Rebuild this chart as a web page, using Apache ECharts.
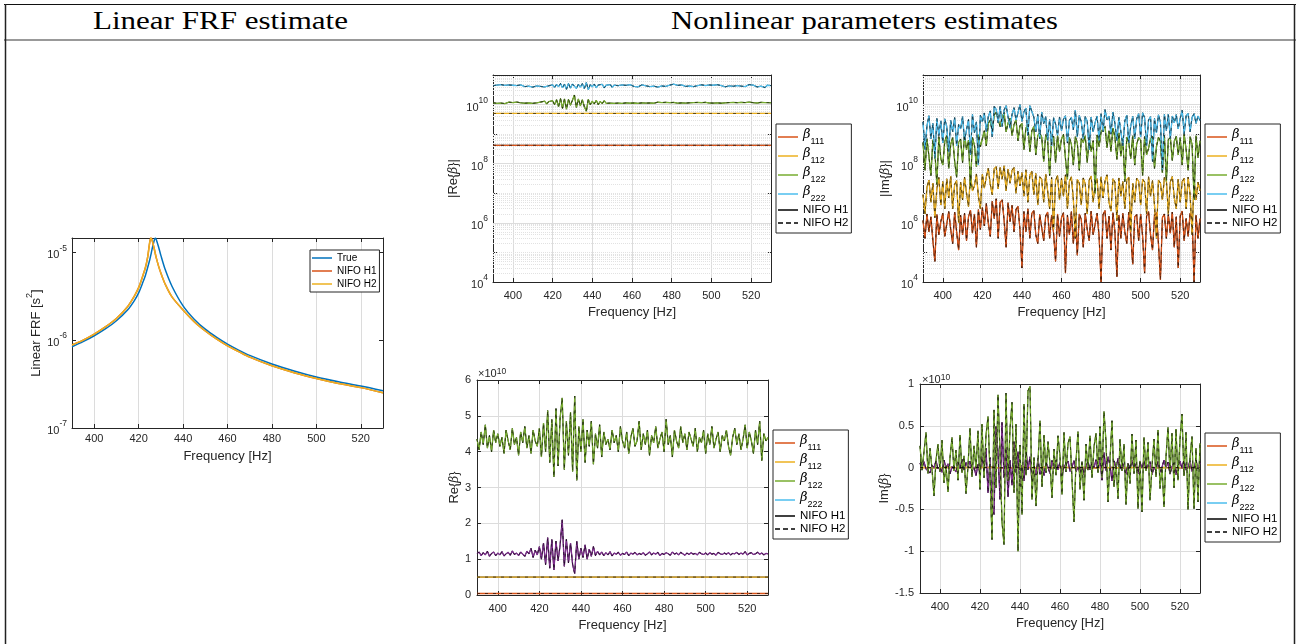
<!DOCTYPE html>
<html>
<head>
<meta charset="utf-8">
<script src="https://cdn.jsdelivr.net/npm/echarts@6.0.0/dist/echarts.min.js"></script>
<style>
  html, body { margin: 0; width: 1299px; height: 644px; background: #fff; overflow: hidden; }
  .layer { position: absolute; left: 0; top: 0; width: 1299px; height: 644px; }
</style>
</head>
<body>
<svg class="layer" width="1299" height="644">
  <line x1="4" y1="4.5" x2="1296" y2="4.5" stroke="#111" stroke-width="1"/>
  <line x1="4" y1="40" x2="1296" y2="40" stroke="#777" stroke-width="1.5"/>
  <line x1="5.5" y1="4" x2="5.5" y2="644" stroke="#222" stroke-width="1.5"/>
  <line x1="1294.5" y1="4" x2="1294.5" y2="644" stroke="#222" stroke-width="1.5"/>
  <text x="93" y="29" font-family="Liberation Serif" font-size="26" textLength="255" lengthAdjust="spacingAndGlyphs">Linear FRF estimate</text>
  <text x="671" y="29" font-family="Liberation Serif" font-size="26" textLength="387" lengthAdjust="spacingAndGlyphs">Nonlinear parameters estimates</text>
</svg>
<div id="frf" class="layer"></div>
<div id="nl" class="layer"></div>
<script>
// ---- linear FRF ----
const frfFreq = [390, 395, 400, 405, 410, 415, 418, 420, 422, 423, 424, 425, 425.5, 426, 427, 427.5, 428, 429, 430, 432, 435, 440, 445, 450, 455, 460, 465, 470, 480, 490, 500, 510, 520, 530];
const frfTrue = [8.4e-7, 9.6e-7, 1.12e-6, 1.34e-6, 1.66e-6, 2.2e-6, 2.8e-6, 3.45e-6, 4.6e-6, 5.4e-6, 6.6e-6, 8.2e-6, 9.3e-6, 1.07e-5, 1.36e-5, 1.45e-5, 1.38e-5, 1.14e-5, 9.2e-6, 6.3e-6, 4.1e-6, 2.45e-6, 1.73e-6, 1.33e-6, 1.08e-6, 9.0e-7, 7.7e-7, 6.7e-7, 5.35e-7, 4.45e-7, 3.8e-7, 3.35e-7, 3.0e-7, 2.65e-7];
const frfNifoH1 = [8.8e-7, 1.0e-6, 1.17e-6, 1.41e-6, 1.76e-6, 2.4e-6, 3.15e-6, 3.95e-6, 5.5e-6, 6.6e-6, 8.6e-6, 1.3e-5, 1.45e-5, 1.38e-5, 1.1e-5, 9.6e-6, 8.5e-6, 6.9e-6, 5.8e-6, 4.3e-6, 3.1e-6, 2.2e-6, 1.62e-6, 1.27e-6, 1.03e-6, 8.6e-7, 7.4e-7, 6.4e-7, 5.1e-7, 4.25e-7, 3.65e-7, 3.2e-7, 2.88e-7, 2.52e-7];
const frfNifoH2 = frfNifoH1;

// ---- nonlinear coefficients, one value per Hz from 390 to 530 ----
// Re{beta} in units of 1e10
const reB111 = 0.042;
const reB112 = 0.50;
const reB122 = [1.15, 1.2, 1.1, 1.18, 1.12, 1.22, 1.08, 1.16, 1.2, 1.1,
  1.17, 1.12, 1.21, 1.09, 1.15, 1.19, 1.11, 1.23, 1.13, 1.17,
  1.1, 1.2, 1.14, 1.08, 1.22, 1.15, 1.3, 1.05, 1.25, 1.12,
  1.35, 1.0, 1.45, 0.85, 1.6, 0.75, 1.55, 0.7, 1.5, 0.95,
  1.4, 2.1, 0.8, 1.55, 0.9, 1.45, 0.85, 0.6, 1.5, 1.0,
  1.3, 1.05, 1.4, 1.0, 1.28, 1.08, 1.35, 1.1, 1.22, 1.12,
  1.2, 1.1, 1.18, 1.12, 1.21, 1.09, 1.17, 1.14, 1.19, 1.11,
  1.16, 1.13, 1.2, 1.1, 1.17, 1.14, 1.19, 1.12, 1.16, 1.13,
  1.18, 1.11, 1.15, 1.2, 1.12, 1.17, 1.14, 1.19, 1.1, 1.16,
  1.13, 1.18, 1.15, 1.11, 1.2, 1.14, 1.17, 1.12, 1.19, 1.15,
  1.11, 1.17, 1.13, 1.18, 1.14, 1.16, 1.12, 1.19, 1.15, 1.13,
  1.17, 1.12, 1.18, 1.14, 1.16, 1.11, 1.19, 1.15, 1.13, 1.17,
  1.14, 1.18, 1.12, 1.16, 1.15, 1.19, 1.13, 1.17, 1.14, 1.21,
  1.12, 1.16, 1.18, 1.13, 1.15, 1.19, 1.14, 1.17, 1.12, 1.16,
  1.15];
const reB222 = [4.35, 4.05, 4.55, 4.2, 4.75, 4.1, 4.45, 4.0, 4.6, 4.25,
  4.5, 4.15, 4.4, 3.95, 4.6, 4.3, 4.05, 4.65, 4.2, 4.4,
  3.9, 4.55, 4.25, 4.7, 4.1, 4.45, 3.95, 4.6, 4.3, 4.15,
  4.65, 3.85, 4.8, 4.0, 5.15, 3.7, 4.9, 3.3, 5.2, 3.6,
  4.95, 5.5, 3.5, 4.85, 3.9, 5.1, 3.45, 5.55, 3.2, 4.7,
  4.0, 4.9, 3.7, 4.6, 4.15, 4.85, 3.65, 4.5, 4.1, 4.75,
  3.85, 4.55, 4.2, 4.35, 4.05, 4.6, 4.25, 4.45, 4.0, 4.7,
  4.3, 4.1, 4.55, 3.95, 4.4, 4.65, 4.15, 4.3, 4.85, 4.05,
  4.5, 4.2, 4.6, 3.9, 4.45, 4.25, 4.7, 4.1, 4.35, 4.55,
  4.0, 4.9, 4.2, 4.45, 3.85, 4.6, 4.3, 4.1, 4.7, 4.25,
  4.5, 4.05, 4.55, 4.35, 4.15, 4.65, 4.0, 4.4, 4.25, 4.6,
  3.95, 4.5, 4.2, 4.7, 4.1, 4.35, 4.55, 4.0, 4.45, 4.3,
  4.6, 4.15, 3.9, 4.4, 4.65, 4.2, 4.5, 4.05, 4.35, 4.75,
  4.1, 4.55, 4.3, 3.95, 4.6, 4.2, 4.85, 3.75, 4.5, 4.3,
  4.4];
// Im{beta} in units of 1e6
const imB111 = [1.2, -0.3, 2.0, 0.5, -1.6, 0.25, -0.05, 1.9, -0.4, 1.1,
  -2.1, 0.35, 0.9, -2.4, 0.6, -0.2, 2.3, -0.5, 0.12, 1.8,
  -0.4, 2.1, -0.25, 1.6, -2.7, 0.45, 2.0, -0.15, 2.8, -0.6,
  3.3, -0.8, 4.5, -1.0, 0.35, 5.4, -1.4, 6.5, -0.3, 5.0,
  -6.0, 1.2, 0.15, 4.8, -1.1, 3.9, -0.5, 2.8, -3.6, 0.6,
  0.03, 2.4, -0.5, 3.0, -0.3, 2.1, -2.6, 0.4, 0.2, -1.9,
  2.2, -0.25, 1.7, -2.3, 0.3, 1.8, -0.45, 0.05, 2.0, -0.35,
  1.5, -2.2, 0.02, 1.8, -0.4, 2.4, -0.2, 1.6, 0.08, -2.0,
  1.3, -0.15, 2.1, -0.6, 0.25, 2.5, -0.4, 0.9, -2.1, 0.35,
  0.01, 1.9, -2.6, 0.3, 1.7, -0.12, 2.2, -0.5, 0.015, 1.8,
  -0.3, 2.1, -0.5, 0.2, 2.3, -0.4, 0.04, 1.6, -1.9, 0.25,
  2.0, -0.35, 0.02, 1.7, -2.4, 0.4, 0.12, -1.8, 2.2, -0.2,
  0.012, 1.5, -2.0, 0.3, 1.9, -0.45, 2.3, -0.15, 1.6, 0.03,
  -1.7, 2.5, -0.25, 1.4, 0.35, -2.1, 1.6, 0.01, -1.8, 0.3,
  1.4];
const imB112 = [9, -2, 16, 28, -5, 22, -1.5, 14, -34, 4,
  -25, 3, 31, -7, 38, -3, 20, -27, 1, 24,
  -6, 35, -10, 3.5, 42, -12, 18, -45, 8, -3,
  44, -15, 36, -70, 20, -9, 68, -80, 14, 75,
  -30, 85, -12, 66, -22, 60, -74, 10, 55, -18,
  50, -8, 62, -5, 41, -55, 9, 47, -4, 36,
  -30, 5, 45, -12, 3, 34, -0.6, 27, -40, 6,
  32, -8, 42, -3, 25, 36, -6, 0.3, 30, -22,
  4, -33, 21, 2, -28, 38, -5, 20, -31, 3,
  36, -7, 26, -42, 5, -2.5, 31, -24, 1.2, 33,
  -8, 25, -3, 29, -35, 0.5, 22, -5, 32, -26,
  4, -30, 24, -2, 36, -8, 27, -4, 0.3, 28,
  -22, 6, 34, -28, 2, 24, -37, 7, -3, 30,
  -5, 25, -32, 3, 35, -9, 0.4, 29, -6, 24,
  12];
const imB122 = [520, -60, 700, -180, 40, -640, 260, -20, 820, -150,
  90, -560, 900, -70, 450, -760, 120, 35, -520, 680,
  -110, 980, -300, 620, -15, 760, -420, 80, -950, 380,
  -700, 1300, -400, 2300, -3000, 1200, -4400, -5600, 4900, 1800,
  -3800, 5400, -1200, 2400, -3500, 900, -2100, 3100, -600, 1900,
  -2300, 300, -1600, 2100, -250, 1300, -1800, 200, -900, 1100,
  -800, 120, -950, 600, 40, -700, 850, -110, 900, -260,
  680, -980, 150, -30, 760, -450, 90, 820, -500, 60,
  -700, 520, -880, 110, 780, -260, 600, -10, 940, -380,
  1200, -1500, 1800, -350, 1300, 260, -1600, 800, -140, 1100,
  -180, 720, 25, -800, 520, -150, 880, -90, 460, -760,
  640, -40, 820, -200, 330, 700, -850, 70, -380, 780,
  -560, 50, 900, -25, 650, -780, 130, 560, -850, 200,
  760, -90, 980, -300, 60, 820, -450, 6, 880, -160,
  600];
const imB222 = [2600, -300, 1900, 4200, -700, 2300, -150, -3400, 900, 2800,
  -500, 3300, -1800, 250, -2900, 1200, 3600, -400, 2100, -1500,
  3900, -600, 1400, -3100, 200, 4700, -1100, 2600, -90, 4400,
  -2600, 5200, -1200, 3900, 6100, -800, -8600, 6900, -2400, 8700,
  1800, -6500, -9200, 8900, -1600, 4600, 7800, -3000, 5200, -10000,
  2700, -5600, 7600, -900, 9200, 9700, -3800, 1200, -4600, 700,
  5600, -2300, 3900, -600, 3100, 400, -3600, 2200, -900, 3800,
  1300, -3200, 4200, -500, 2900, 3700, -1400, -6500, 800, 4300,
  -2600, 700, -3900, 2800, -300, 3800, -1200, 2500, 4100, -600,
  4900, -1200, 6700, 3100, -4100, 1000, 5600, -2300, 600, -3700,
  3400, -400, 2800, -4400, 500, -1900, 4000, -700, 3300, -4900,
  800, -5300, 3600, -400, 3000, -3900, 120, 3400, -1100, 4500,
  -2500, 60, -4700, 1300, 4800, -700, 4100, -2400, 4600, -1500,
  3400, 6400, -1000, 4200, -5000, 1200, 3700, -4900, 2300, -4100,
  2900];

const betaNames = ['β111', 'β112', 'β122', 'β222'];

// ---- styling ----
const FONT = '"Liberation Sans", Arial, Helvetica, sans-serif';
const INK = '#262626';
const MAJOR = '#dcdcdc';
const MINOR = '#e2e2e2';
const COL = { blue: '#0072BD', orange: '#D95319', yellow: '#EDB120', purple: '#7E2F8E', green: '#77AC30', cyan: '#4DBEEE' };
const SOLID_ICON = 'path://M0,0H20V1.5H0Z';
const DASH_ICON = 'path://M0,0H5V1.5H0Z M8,0H13V1.5H8Z M16,0H20V1.5H16Z';

const freq = [];
for (let f = 390; f <= 530; f++) freq.push(f);

function freqAxis(grid, nameGap, margin, fs) {
  return {
    type: 'value', gridIndex: grid, min: 390, max: 530, splitNumber: 7,
    name: 'Frequency [Hz]', nameLocation: 'middle', nameGap: nameGap,
    nameTextStyle: { fontFamily: FONT, fontSize: 13, color: INK },
    axisLine: { show: true, onZero: false, lineStyle: { color: INK } },
    axisTick: { show: true, inside: true, length: 4, lineStyle: { color: INK } },
    axisLabel: { fontFamily: FONT, fontSize: fs, color: INK, margin: margin,
      formatter: v => (v % 20 === 0 ? String(v) : '') },
    splitLine: { show: true, lineStyle: { color: MAJOR } }
  };
}
function topAxis(grid) {
  return {
    type: 'value', gridIndex: grid, position: 'top', min: 390, max: 530, splitNumber: 7,
    axisLine: { show: true, onZero: false, lineStyle: { color: INK } },
    axisTick: { show: true, inside: true, length: 4, lineStyle: { color: INK } },
    axisLabel: { show: false }, splitLine: { show: false }
  };
}
const nameRich = {
  g: { fontFamily: 'DejaVu Serif', fontStyle: 'italic', fontSize: 12, color: INK },
  b: { fontFamily: FONT, fontSize: 13, color: INK, verticalAlign: 'bottom', lineHeight: 18 },
  p: { fontFamily: FONT, fontSize: 9, color: INK, verticalAlign: 'top', lineHeight: 18 }
};
function logAxis(grid, minExp, max, every, name, nameGap) {
  return {
    type: 'log', logBase: 10, gridIndex: grid, min: Math.pow(10, minExp), max: max,
    name: name, nameLocation: 'middle', nameGap: nameGap,
    nameTextStyle: { fontFamily: FONT, fontSize: 13, color: INK, rich: nameRich },
    axisLine: { show: true, lineStyle: { color: INK } },
    axisTick: { show: true, inside: true, length: 4, lineStyle: { color: INK } },
    axisLabel: {
      margin: 5,
      formatter: v => {
        const e = Math.log10(v), r = Math.round(e);
        if (Math.abs(e - r) > 1e-6 || (r - minExp) % every !== 0) return '';
        return '{b|10}{s|' + r + '}';
      },
      rich: {
        b: { fontFamily: FONT, fontSize: 11, color: INK, verticalAlign: 'bottom', lineHeight: 17 },
        s: { fontFamily: FONT, fontSize: 8.5, color: INK, verticalAlign: 'top', lineHeight: 17 }
      }
    },
    splitLine: { show: false }
  };
}
function linAxis(grid, min, max, interval, name, nameGap) {
  return {
    type: 'value', gridIndex: grid, min: min, max: max, interval: interval,
    name: name, nameLocation: 'middle', nameGap: nameGap,
    nameTextStyle: { fontFamily: FONT, fontSize: 13, color: INK, rich: nameRich },
    axisLine: { show: true, onZero: false, lineStyle: { color: INK } },
    axisTick: { show: true, inside: true, length: 4, lineStyle: { color: INK } },
    axisLabel: { fontFamily: FONT, fontSize: 11, color: INK, margin: 6 },
    splitLine: { show: true, lineStyle: { color: MAJOR } }
  };
}
function rightAxis(base) {
  return Object.assign({}, base, {
    position: 'right', name: '', axisLabel: { show: false }, splitLine: { show: false }
  });
}
// grid lines of a log axis: solid at labelled decades, dotted elsewhere
function logGridLines(minExp, maxVal, every) {
  const out = [];
  for (let e = minExp; Math.pow(10, e) < maxVal; e++) {
    for (let k = 1; k <= 9; k++) {
      const v = k * Math.pow(10, e);
      if (v <= Math.pow(10, minExp) || v >= maxVal) continue;
      const major = k === 1 && (e - minExp) % every === 0;
      out.push({ yAxis: v, lineStyle: { type: major ? 'solid' : 'dotted', color: major ? MAJOR : MINOR, width: 1 } });
    }
  }
  return out;
}
function gridSeries(ax, lines) {
  return {
    type: 'line', name: 'grid' + ax, xAxisIndex: ax, yAxisIndex: ax, data: [], silent: true,
    markLine: { silent: true, z: 1, symbol: ['none', 'none'], label: { show: false },
      emphasis: { disabled: true }, animation: false, data: lines }
  };
}
function line(name, ax, data, color, width, dashed, z) {
  return {
    type: 'line', name: name, xAxisIndex: ax, yAxisIndex: ax, data: data,
    showSymbol: false, symbol: 'none', z: z,
    lineStyle: { color: color, width: width, type: dashed ? [3, 5] : 'solid' },
    itemStyle: { color: color }, emphasis: { disabled: true }
  };
}

// ---------------- left chart ----------------
const frf = echarts.init(document.getElementById('frf'));
const frfY = logAxis(0, -7, 1.45e-5, 1, '{b|Linear FRF [s}{p|2}{b|]}', 24);
const smoothFrf = s => Object.assign(s, { smooth: 0.3 });
frf.setOption({
  animation: false,
  grid: [{ left: 72, top: 238, width: 311, height: 190 }],
  xAxis: [freqAxis(0, 22, 5, 11), topAxis(0)],
  yAxis: [frfY, rightAxis(frfY)],
  legend: {
    left: 310, top: 250, orient: 'vertical', padding: [3, 3, 3, 2], itemGap: 3,
    itemWidth: 20, itemHeight: 1.5, icon: SOLID_ICON, selectedMode: false,
    backgroundColor: '#fff', borderColor: INK, borderWidth: 1,
    itemStyle: { borderWidth: 0 },
    textStyle: { fontFamily: FONT, fontSize: 10, color: '#000' },
    data: ['True', 'NIFO H1', 'NIFO H2']
  },
  series: [
    gridSeries(0, logGridLines(-7, 1.45e-5, 1)),
    smoothFrf(line('True', 0, frfFreq.map((f, i) => [f, frfTrue[i]]), COL.blue, 1.5, false, 3)),
    smoothFrf(line('NIFO H1', 0, frfFreq.map((f, i) => [f, frfNifoH1[i]]), COL.orange, 1.5, false, 3)),
    smoothFrf(line('NIFO H2', 0, frfFreq.map((f, i) => [f, frfNifoH2[i]]), COL.yellow, 1.5, false, 3))
  ]
});

// ---------------- nonlinear panels ----------------
const nl = echarts.init(document.getElementById('nl'));
const grids = [
  { left: 493, top: 75, width: 278, height: 207 },   // |Re|
  { left: 923, top: 75, width: 277, height: 207 },   // |Im|
  { left: 477, top: 380, width: 291, height: 215 },  // Re
  { left: 920, top: 384, width: 280, height: 209 }   // Im
];
const yB = logAxis(0, 4, 1e11, 2, '|Re{{g|β}}|', 33);
const yC = logAxis(1, 4, 1e11, 2, '|Im{{g|β}}|', 29);
const yD = linAxis(2, 0, 6, 1, 'Re{{g|β}}', 14);
const yE = linAxis(3, -1.5, 1, 0.5, 'Im{{g|β}}', 27);
const xAxes = [], yAxes = [];
[yB, yC, yD, yE].forEach((y, g) => {
  xAxes.push(freqAxis(g, 24, 8, 11), topAxis(g));
  yAxes.push(y, rightAxis(y));
});
// panel g uses xAxis/yAxis number 2g
const ax = g => 2 * g;

const flat = v => [[390, v], [530, v]];
const series = [];
series.push(gridSeries(ax(0), logGridLines(4, 1e11, 2)));
series.push(gridSeries(ax(1), logGridLines(4, 1e11, 2)));

function panel(g, sets, colors) {
  sets.forEach(d => series.push(line('NIFO H1', ax(g), d, '#000', 1, false, 2)));
  sets.forEach((d, i) => series.push(line(betaNames[i], ax(g), d, colors[i], 1.3, false, 3)));
  sets.forEach(d => series.push(line('NIFO H2', ax(g), d, '#000', 0.6, true, 4)));
}
const toPts = (arr, scale, abs) => arr.map((v, i) => [freq[i], abs ? Math.abs(v * scale) : v * scale]);

panel(0, [flat(reB111 * 1e10), flat(reB112 * 1e10), toPts(reB122, 1e10), toPts(reB222, 1e10)],
  [COL.orange, COL.yellow, COL.green, COL.cyan]);
panel(1, [toPts(imB111, 1e6, true), toPts(imB112, 1e6, true), toPts(imB122, 1e6, true), toPts(imB222, 1e6, true)],
  [COL.orange, COL.yellow, COL.green, COL.cyan]);
panel(2, [flat(reB111), flat(reB112), toPts(reB122, 1), toPts(reB222, 1)],
  [COL.orange, COL.yellow, COL.purple, COL.green]);
panel(3, [toPts(imB111, 1e-4), toPts(imB112, 1e-4), toPts(imB122, 1e-4), toPts(imB222, 1e-4)],
  [COL.orange, COL.yellow, COL.purple, COL.green]);

function legendAt(left, top) {
  return {
    left: left, top: top, orient: 'vertical', padding: [4, 3, 4, 2], itemGap: 1,
    itemWidth: 20, itemHeight: 1.5, icon: SOLID_ICON, selectedMode: false,
    backgroundColor: '#fff', borderColor: INK, borderWidth: 1,
    itemStyle: { borderWidth: 0 },
    textStyle: {
      fontFamily: FONT, fontSize: 11.5, color: '#000',
      rich: {
        g: { fontFamily: 'DejaVu Serif', fontStyle: 'italic', fontSize: 13, color: '#000', verticalAlign: 'top', lineHeight: 18 },
        s: { fontFamily: FONT, fontSize: 9, color: '#000', verticalAlign: 'bottom', lineHeight: 18 },
        n: { fontFamily: FONT, fontSize: 11.5, color: '#000', lineHeight: 12 }
      }
    },
    formatter: n => (n.charAt(0) === 'β' ? '{g|β}{s|' + n.slice(1) + '}' : '{n|' + n + '}'),
    data: betaNames.concat(['NIFO H1', { name: 'NIFO H2', icon: DASH_ICON }])
  };
}

const timesTen = (left, top) => ({
  type: 'text', left: left, top: top,
  style: { text: '×10{s|10}', fontFamily: FONT, fontSize: 11, fill: INK,
    rich: { s: { fontFamily: FONT, fontSize: 8.5, fill: INK, verticalAlign: 'top', lineHeight: 14 } } }
});

nl.setOption({
  animation: false,
  grid: grids,
  xAxis: xAxes,
  yAxis: yAxes,
  legend: [legendAt(776, 124), legendAt(1205, 124), legendAt(773, 430), legendAt(1205, 433)],
  graphic: [timesTen(478, 367), timesTen(922, 373)],
  series: series
});
</script>
</body>
</html>
